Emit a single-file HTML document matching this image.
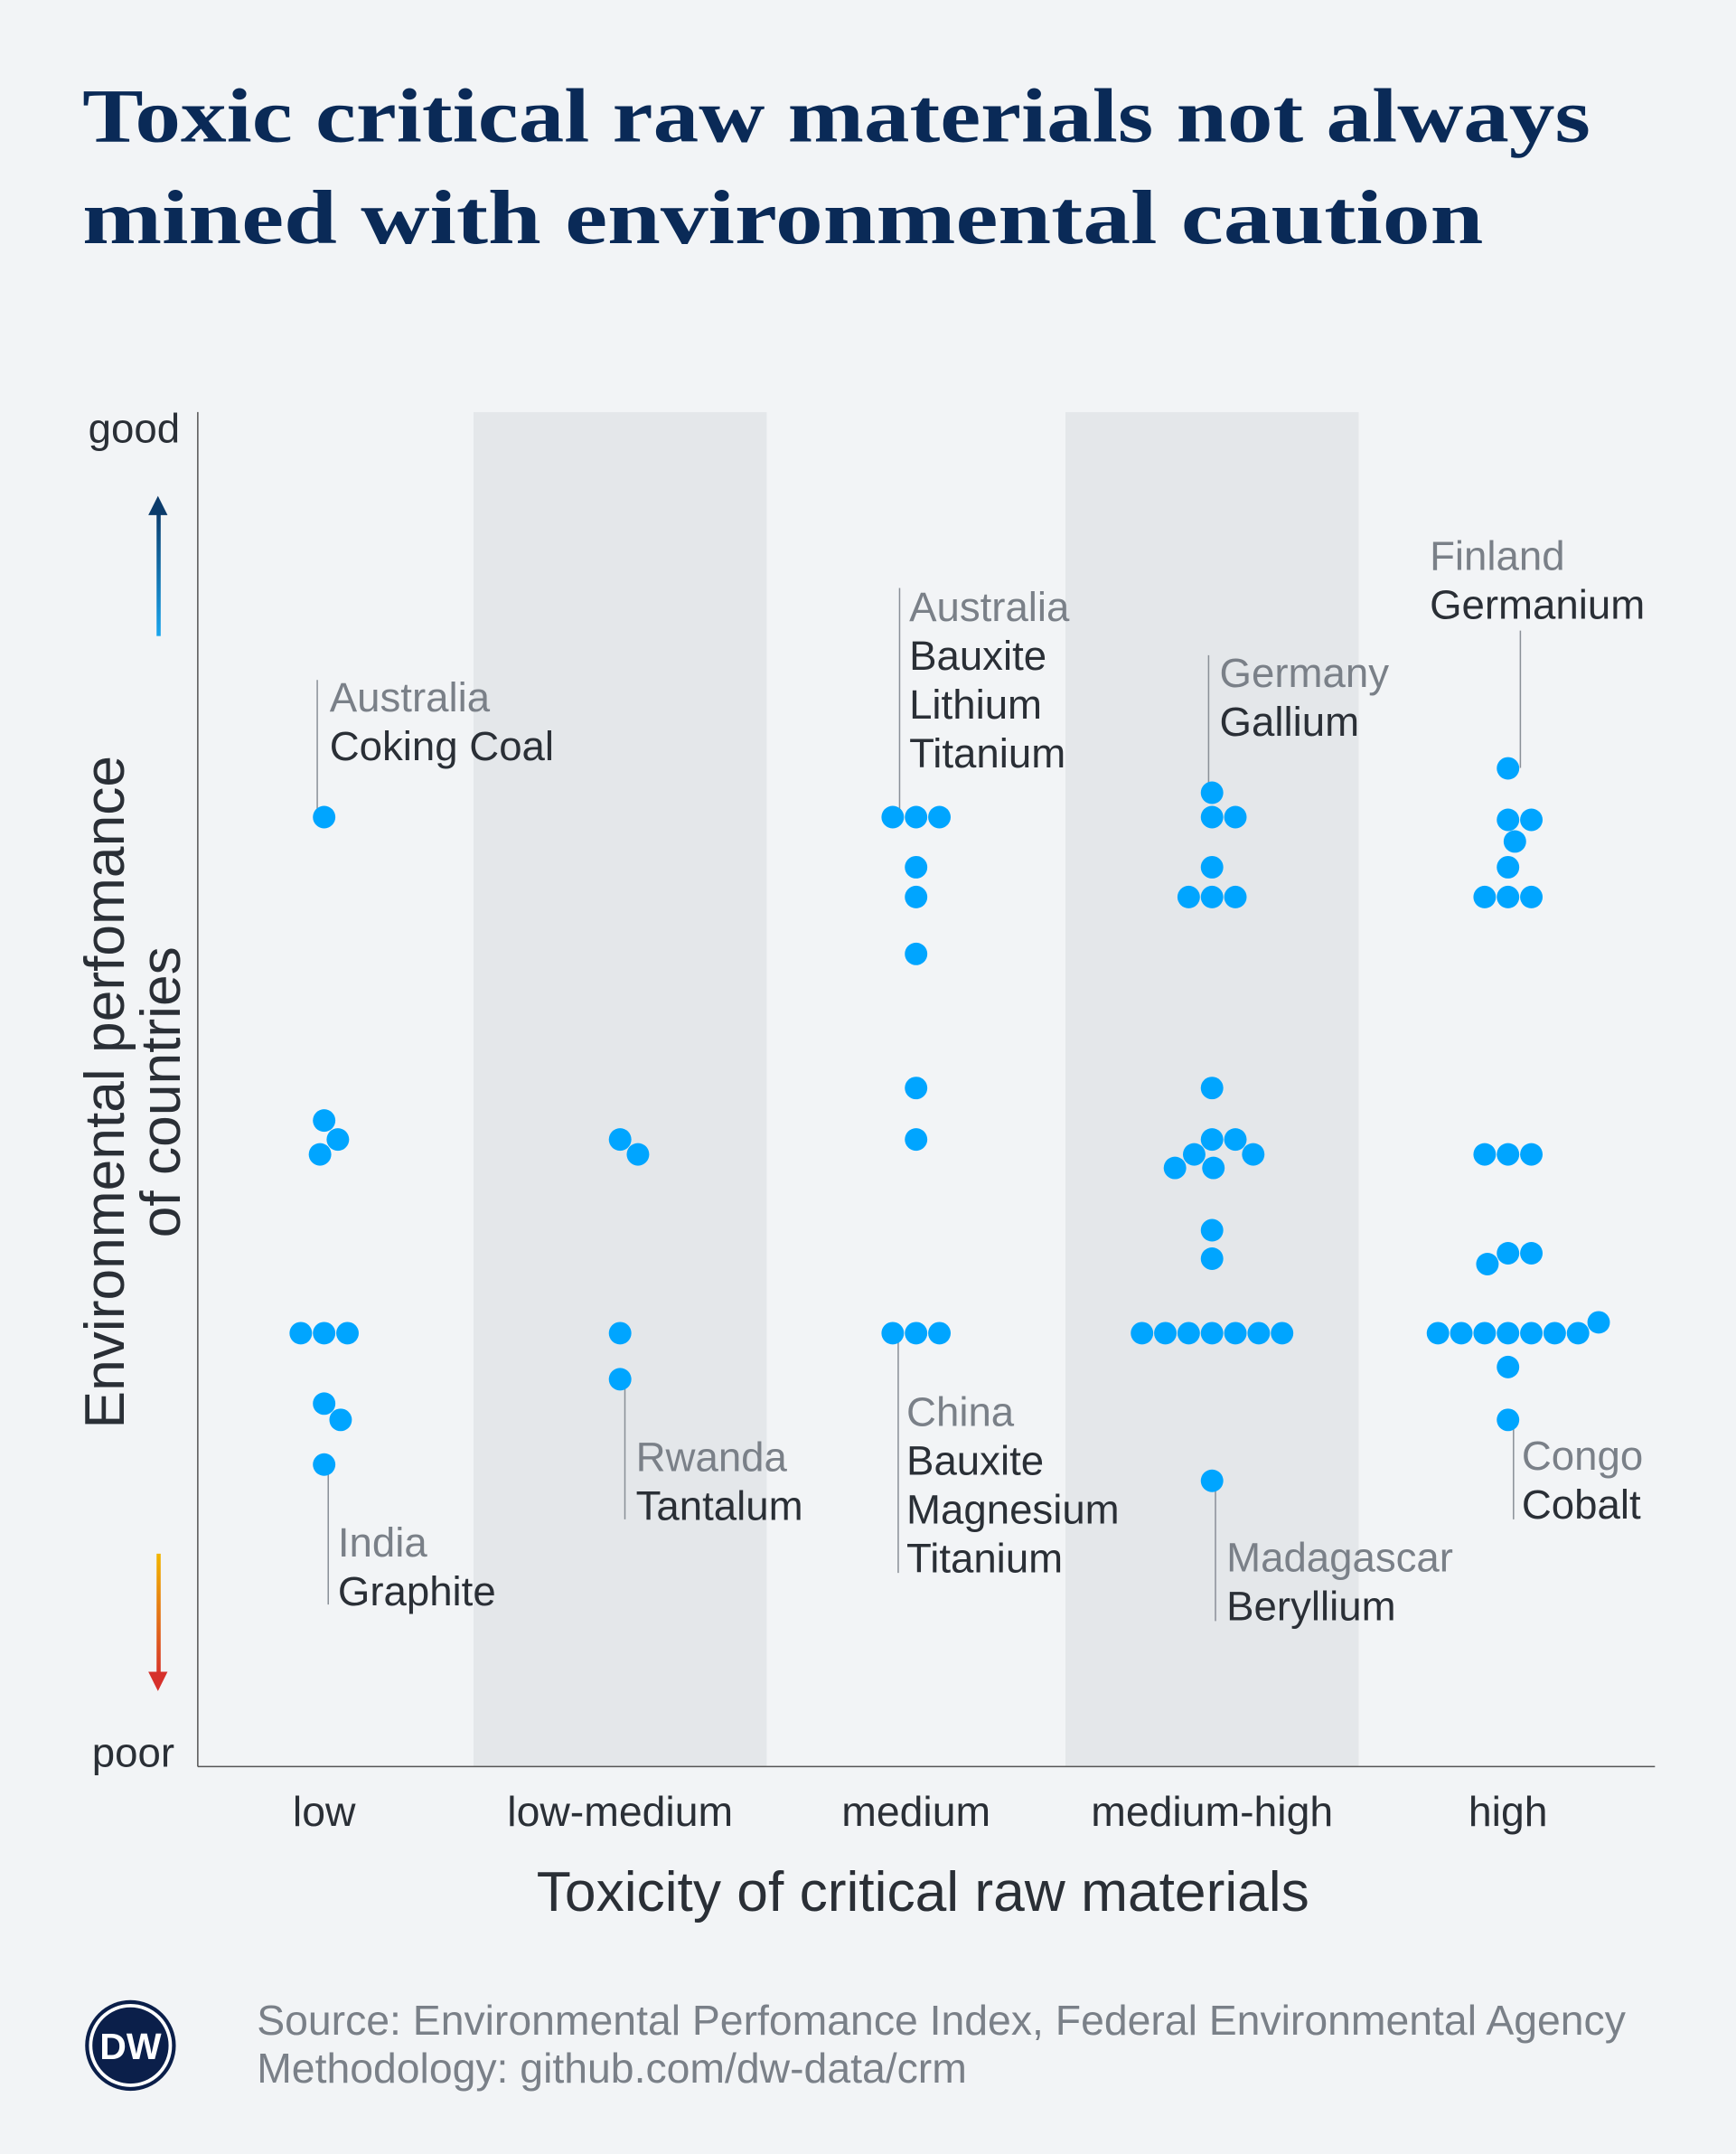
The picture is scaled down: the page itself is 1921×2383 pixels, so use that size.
<!DOCTYPE html>
<html><head><meta charset="utf-8"><style>
html,body{margin:0;padding:0;background:#f2f4f6;}
svg{display:block;}
text{font-family:"Liberation Sans",sans-serif;}
</style></head><body>
<svg id="chart" width="1921" height="2383" viewBox="0 0 1264 1568" xmlns="http://www.w3.org/2000/svg">
<defs>
<linearGradient id="gUp" x1="0" y1="1" x2="0" y2="0"><stop offset="0" stop-color="#1aa6ee"/><stop offset="1" stop-color="#0b3b6b"/></linearGradient>
<linearGradient id="gDown" x1="0" y1="0" x2="0" y2="1"><stop offset="0" stop-color="#f2b600"/><stop offset="1" stop-color="#d6302b"/></linearGradient>
</defs>
<rect x="0" y="0" width="1264" height="1568" fill="#f2f4f6"/>
<g fill="#0a2a57" font-weight="bold" font-size="56" style="font-family:'Liberation Serif',serif">
<text x="60" y="103" textLength="1098" lengthAdjust="spacingAndGlyphs" style="font-family:'Liberation Serif',serif">Toxic critical raw materials not always</text>
<text x="60" y="177" textLength="1020" lengthAdjust="spacingAndGlyphs" style="font-family:'Liberation Serif',serif">mined with environmental caution</text>
</g>
<g id="bands"></g>
<line x1="144" y1="300" x2="144" y2="1286" stroke="#555" stroke-width="1"/>
<line x1="144" y1="1286" x2="1205" y2="1286" stroke="#555" stroke-width="1"/>
<text x="131" y="322" text-anchor="end" font-size="30" fill="#2a2f36">good</text>
<text x="127" y="1286" text-anchor="end" font-size="30" fill="#2a2f36">poor</text>
<g>
<rect x="114" y="372" width="3" height="91" fill="url(#gUp)"/>
<polygon points="108,375 122,375 115,361" fill="#0b3b6b"/>
</g>
<g>
<rect x="114" y="1131" width="3" height="90" fill="url(#gDown)"/>
<polygon points="108,1217 122,1217 115,1231" fill="#d6302b"/>
</g>
<g font-size="41" fill="#2a2f36" text-anchor="middle">
<text transform="translate(90,795) rotate(-90)">Environmental perfomance</text>
<text transform="translate(131,795) rotate(-90)">of countries</text>
</g>
<g id="xlabels"></g>
<text x="672" y="1391" text-anchor="middle" font-size="41" fill="#2a2f36">Toxicity of critical raw materials</text>
<g id="annotations"></g>
<g id="dots"></g>
<g>
<circle cx="95" cy="1489" r="33" fill="#0b1f4a"/>
<circle cx="95" cy="1489" r="29" fill="none" stroke="#fff" stroke-width="2.5"/>
<text x="95" y="1499" text-anchor="middle" font-size="27" font-weight="bold" fill="#fff">DW</text>
</g>
<g font-size="30.5" fill="#7a8088">
<text x="187" y="1481">Source: Environmental Perfomance Index, Federal Environmental Agency</text>
<text x="187" y="1516">Methodology: github.com/dw-data/crm</text>
</g>
</svg>
<script>
const categories = ["low","low-medium","medium","medium-high","high"];
const lowValues = [70.1,47.7,46.3,45.2,32,32,32,26.8,25.6,22.3];
const lowMediumValues = [46.3,45.2,32,28.6];
const mediumValues = [70.1,70.1,70.1,66.4,64.2,60.0,50.1,46.3,32,32,32];
const mediumHighValues = [71.9,70.1,70.1,66.4,64.2,64.2,64.2,50.1,46.3,46.3,45.2,45.2,44.2,44.2,39.6,37.5,32,32,32,32,32,32,32,21.1];
const highValues = [73.7,69.9,69.9,68.3,66.4,64.2,64.2,64.2,45.2,45.2,45.2,37.9,37.9,37.1,32,32,32,32,32,32,32,32.8,29.5,25.6];
const seriesValues = [lowValues,lowMediumValues,mediumValues,mediumHighValues,highValues];
const NS="http://www.w3.org/2000/svg";
const plotLeft=144, plotRight=1205, plotTop=300, plotBottom=1286;
const bandW=215.5, firstCenter=236;
function xScale(i){return firstCenter+i*bandW;}
function yScale(v){return plotBottom-(v/100)*(plotBottom-plotTop);}
function mk(tag,attrs,parent){const e=document.createElementNS(NS,tag);for(const k in attrs)e.setAttribute(k,attrs[k]);parent.appendChild(e);return e;}
const bands=document.getElementById('bands');
categories.forEach((c,i)=>{
  if(i%2===1){
    const r=mk('rect',{x:xScale(i)-bandW/2+1,y:plotTop,width:bandW-2,height:plotBottom-plotTop,fill:'#e4e7ea'},bands);
    
    
  }
});
const xl=document.getElementById('xlabels');
categories.forEach((c,i)=>{
  const t=mk('text',{x:xScale(i),y:1329,'text-anchor':'middle','font-size':'30.5',fill:'#2a2f36'},xl);
  t.textContent=c;
  
  
});
const R=8.2, D=17;
const dotsG=document.getElementById('dots');
seriesValues.forEach((vals,i)=>{
  const placed=[];
  vals.forEach(v=>{
    const y=yScale(v);
    let off=0;
    for(let k=0;k<400;k++){
      const cand = k===0?0:(k%2===1?Math.ceil(k/2):-Math.ceil(k/2));
      const ok=placed.every(p=>Math.hypot(p.x-cand,p.y-y)>=D-0.5);
      if(ok){off=cand;break;}
    }
    placed.push({x:off,y:y});
    const c=mk('circle',{cx:xScale(i)+off,cy:y,r:R,fill:'#00a5ff'},dotsG);
    
    
  });
});
const ann=[
 {lx:231,l1:495,l2:595,tx:240,ty:507,lines:["Australia","Coking Coal"]},
 {lx:239,l1:1066,l2:1168,tx:246,ty:1122,lines:["India","Graphite"]},
 {lx:455,l1:1004,l2:1106,tx:463,ty:1060,lines:["Rwanda","Tantalum"]},
 {lx:655,l1:428,l2:595,tx:662,ty:441,lines:["Australia","Bauxite","Lithium","Titanium"]},
 {lx:654,l1:972,l2:1145,tx:660,ty:1027,lines:["China","Bauxite","Magnesium","Titanium"]},
 {lx:880,l1:477,l2:577,tx:888,ty:489,lines:["Germany","Gallium"]},
 {lx:885,l1:1078,l2:1180,tx:893,ty:1133,lines:["Madagascar","Beryllium"]},
 {lx:1107,l1:459,l2:559,tx:1041,ty:404,lines:["Finland","Germanium"]},
 {lx:1102,l1:1034,l2:1106,tx:1108,ty:1059,lines:["Congo","Cobalt"]}
];
const annG=document.getElementById('annotations');
ann.forEach(a=>{
  const g=mk('g',{},annG);
  
  
  mk('line',{x1:a.lx,y1:a.l1,x2:a.lx,y2:a.l2,stroke:'#8a9098','stroke-width':'1'},g);
  a.lines.forEach((s,j)=>{
    const t=mk('text',{x:a.tx,y:a.ty+11+j*35.5,'font-size':'30','font-family':'Liberation Sans, sans-serif',fill:j===0?'#7a8088':'#2a2f36'},g);
    t.textContent=s;
  });
});
</script>
</body></html>
